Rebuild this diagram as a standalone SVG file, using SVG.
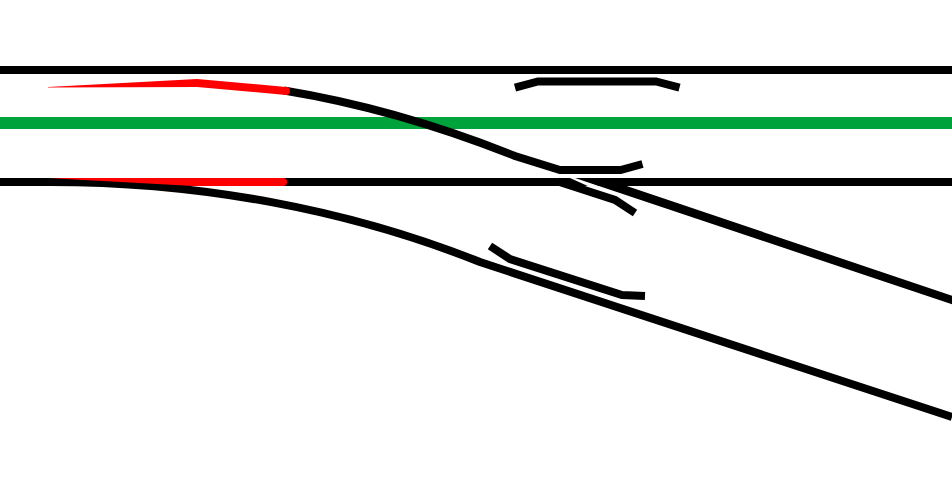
<svg xmlns="http://www.w3.org/2000/svg" width="952" height="500" viewBox="0 0 952 500">
<style>
.r{fill:none;stroke:#000;stroke-width:8}
.g{fill:none;stroke:#00a33b;stroke-width:12}
.b{fill:#f00}
</style>
<rect width="952" height="500" fill="#fff"/>
<g id="green-track"><path class="g" d="M0 123H952"/></g>
<g id="rails">
<path class="r" d="M0 70H952"/>
<path class="r" d="M0 182H952"/>
<path d="M570 178H578L610 190V196Z" fill="#fff"/>
<path d="M575 178H603L952 295.8V304.2Z" fill="#000"/>
<path class="r" d="M284 90.5C360 103 440 126 515 156L560 170H620.5L642.5 164"/>
<path class="r" d="M50 182C200 182 347 209 480 262L952 417"/>
<path class="r" d="M558 181.5L615 200L635 213"/>
<path class="r" d="M515 87.7L538 81.5H656L679.5 87.7"/>
<path class="r" d="M490 246L510 259L622 295L645 296"/>
</g>
<g id="switch-blades">
<path class="b" d="M48 87L197 79L286 87A4 4 0 0 1 286 95L197 87L48 87.6Z"/>
<path class="b" d="M48 178H283A4 4 0 0 1 283 186H193Z"/>
</g>
</svg>
